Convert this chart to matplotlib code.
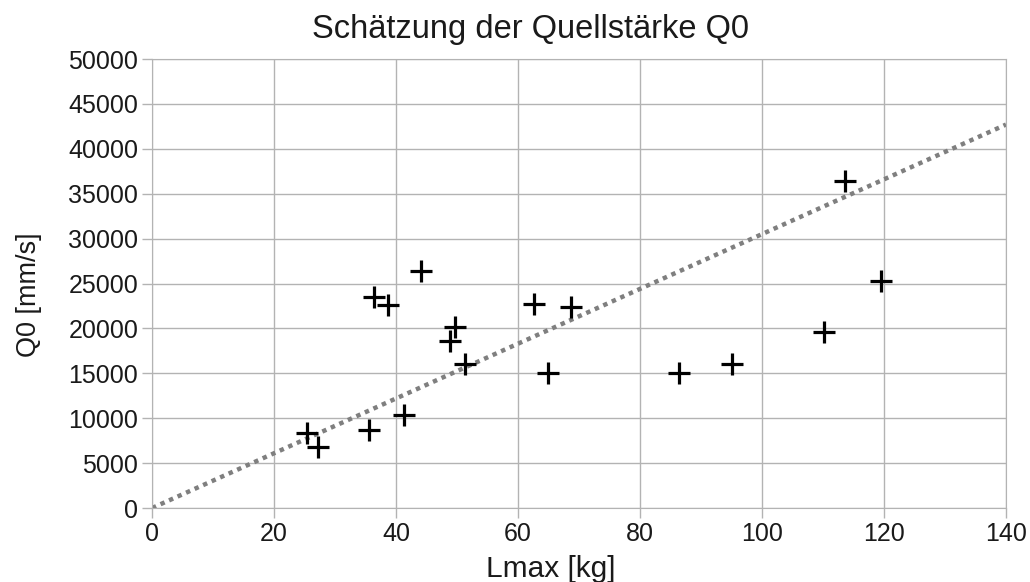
import matplotlib
matplotlib.use("Agg")
import matplotlib.pyplot as plt

plt.rcParams["font.family"] = ["Liberation Sans", "DejaVu Sans"]

# Messwerte
lmax_kg = [25.4, 27.2, 35.6, 36.4, 38.7, 41.3, 44.1, 48.9, 49.7, 51.3,
           62.6, 64.9, 68.7, 86.4, 95.1, 110.2, 113.6, 119.5]
q0_mms = [8400, 6800, 8700, 23500, 22600, 10350, 26400, 18600, 20150, 16000,
          22700, 15000, 22400, 15000, 16000, 19600, 36400, 25300]

# Trendlinie (durch Nullpunkt)
trend_x = [0, 140]
trend_y = [0, 42700]

x_ticks = [0, 20, 40, 60, 80, 100, 120, 140]
y_ticks = [0, 5000, 10000, 15000, 20000, 25000, 30000, 35000, 40000, 45000, 50000]

fig = plt.figure(figsize=(10.3, 5.82), dpi=100)
ax = fig.add_axes([0.1476, 0.1271, 0.8291, 0.7715])

ax.plot(trend_x, trend_y, linestyle=(0, (1, 1.1)), color="#7f7f7f",
        linewidth=3.2, zorder=2)
ax.scatter(lmax_kg, q0_mms, marker="+", s=230, color="black",
           linewidths=2.3, zorder=3)

ax.set_xlim(0, 140)
ax.set_ylim(0, 50000)
ax.set_xticks(x_ticks)
ax.set_yticks(y_ticks)
ax.tick_params(axis="both", labelsize=18, colors="#b3b3b3",
               labelcolor="#1a1a1a", length=7, width=1, pad=3)

ax.grid(True, color="#b3b3b3", linewidth=1)
ax.set_axisbelow(True)
for sp in ax.spines.values():
    sp.set_color("#b3b3b3")

ax.set_title("Schätzung der Quellstärke Q0", fontsize=23.5, color="#1a1a1a",
             x=0.443, pad=15)
ax.set_xlabel("Lmax [kg]", fontsize=21.5, color="#1a1a1a")
ax.set_ylabel("Q0 [mm/s]", fontsize=19.5, color="#1a1a1a")
ax.xaxis.set_label_coords(0.467, -0.105)
ax.yaxis.set_label_coords(-0.129, 0.474)

fig.savefig("out.png", dpi=100)
